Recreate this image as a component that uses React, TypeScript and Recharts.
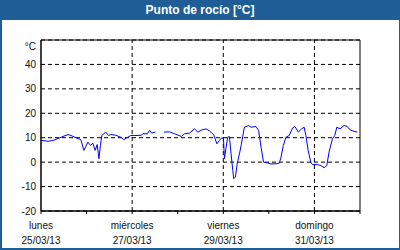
import { LineChart, Line, XAxis, YAxis, CartesianGrid, ReferenceLine, ReferenceArea } from 'recharts';

// hours since 25/03/13 00:00
const hours = [
  0, 1.6, 3.7, 6.8, 10, 14.2, 15.8, 18.4, 21, 22.6, 24.7, 26.1, 27.3, 28.5, 29.6, 30.5, 31.3, 32, 34.1, 35.5,
  36.8, 39.4, 42, 43.6, 45.7, 47.3, 49.4, 52.9, 53.6, 56, 57.2, 58.3, 60.2, 62, 64.7, 67.7, 70.4, 73.9, 75.6,
  78.2, 80.9, 82.6, 84.7, 87, 88.7, 91, 92.6, 94, 95.2, 96.1, 96.6, 97.5, 98.3, 99.2, 100.1, 101, 101.5, 102.4,
  103.3, 104.5, 105.4, 107.1, 109.4, 110.6, 113.2, 114.6, 115.9, 117.2, 119.3, 121.1, 123.7, 125.5, 126.4,
  127.6, 129, 130.7, 132.5, 133.7, 135.5, 137.2, 138.6, 139.5, 140.7, 142.1, 143, 145.6, 147.4, 149.1, 150.5,
  151.7, 153.5, 154.7, 155.8, 157.5, 159.6, 161.3, 162.8, 164.9, 166.6,
];
const dewPoint = [
  8.9, 8.8, 8.5, 9.0, 10.0, 11.3, 10.9, 10.0, 9.2, 4.8, 8.2, 6.8, 7.8, 4.8, 7.2, 1.4, 6.8, 10.9, 12.3, 10.9,
  11.3, 11.0, 10.2, 9.2, 10.2, 10.9, 10.9, 11.0, 11.6, 11.6, 13.0, 11.9, 12.3, null, 12.3, 12.4, 11.6, 10.5, 11.6,
  11.9, 13.6, 12.3, 13.2, 13.6, 12.8, 11.2, 7.5, 8.9, 10.0, 9.6, 1.4, 6.1, 10.2, 10.5, 3.4, -3.4, -6.8, -6.1,
  -0.7, 3.4, 6.8, 14.3, 15.0, 14.3, 14.6, 13.0, 6.1, 0.0, -0.3, -0.7, -0.7, -0.4, 2.0,
  6.8, 10.2, 10.9, 14.0, 14.6, 12.3, 13.6, 14.3, 10.9, 4.8, 0.0, -1.0, -1.0, -1.4, -2.3, -1.4,
  4.1, 9.6, 10.9, 14.3, 13.6, 15.0, 14.6, 13.2, 12.6, 12.3,
];

const xTicks = [0, 24, 48, 72, 96, 120, 144, 168];
const dayNames: Record<number, string> = { 0: 'lunes', 48: 'miércoles', 96: 'viernes', 144: 'domingo' };
const dates: Record<number, string> = { 0: '25/03/13', 48: '27/03/13', 96: '29/03/13', 144: '31/03/13' };
const majorDays = [48, 96, 144];
const yTicks = [-20, -10, 0, 10, 20, 30, 40, 50];

const data = hours.map((h, i) => ({ h, v: dewPoint[i] }));

const FONT = '"Liberation Sans", Arial, sans-serif';
const BLUE = '#1f5d96';

function DayTick(props: any) {
  const { x, y, payload } = props;
  const name = dayNames[payload.value];
  if (!name) return null;
  return (
    <text x={x} y={y} textAnchor="middle" fontFamily={FONT} fontSize={10} fill="#111">
      <tspan x={x} dy={15}>{name}</tspan>
      <tspan x={x} dy={15}>{dates[payload.value]}</tspan>
    </text>
  );
}

function TempTick(props: any) {
  const { x, y, payload } = props;
  const label = payload.value === 50 ? '°C' : String(payload.value);
  return (
    <text x={x} y={y} dy={payload.value === 50 ? 9.5 : 3.5} textAnchor="end" fontFamily={FONT} fontSize={10} fill="#111">
      {label}
    </text>
  );
}

export default function App() {
  return (
    <div style={{ position: 'absolute', left: 0, top: 0, width: 400, height: 250, background: '#fff', boxSizing: 'border-box',
      borderLeft: `2px solid ${BLUE}`, borderRight: `1px solid ${BLUE}`, borderBottom: `2px solid ${BLUE}` }}>
      <div style={{ position: 'absolute', left: -2, top: 0, width: 400, height: 20, background: BLUE, color: '#fff',
        fontFamily: FONT, fontWeight: 'bold', fontSize: 12, textAlign: 'center', lineHeight: '20px' }}>
        Punto de rocío [°C]
      </div>
      <div style={{ position: 'absolute', left: -2, top: 0 }}>
        <LineChart width={400} height={250} data={data} margin={{ top: 40, right: 40, bottom: 0, left: 0 }}>
          <CartesianGrid vertical={false} stroke="#000" strokeDasharray="4 3" />
          {majorDays.map(d => (
            <ReferenceLine key={d} x={d} stroke="#000" strokeDasharray="4 3" />
          ))}
          <XAxis dataKey="h" type="number" domain={[0, 168]} ticks={xTicks} interval={0}
            height={39} tickSize={3} tickMargin={0} stroke="#000" tick={<DayTick />} />
          <YAxis type="number" domain={[-20, 50]} ticks={yTicks} interval={0} width={41}
            tickLine={false} tickSize={0} tickMargin={5} stroke="#000" tick={<TempTick />} />
          <ReferenceArea x1={0} x2={168} y1={-20} y2={50} fill="none" stroke="#000" strokeWidth={1} />
          <Line dataKey="v" type="linear" stroke="#0000ff" strokeWidth={1} dot={false}
            connectNulls={false} isAnimationActive={false} />
        </LineChart>
      </div>
    </div>
  );
}
